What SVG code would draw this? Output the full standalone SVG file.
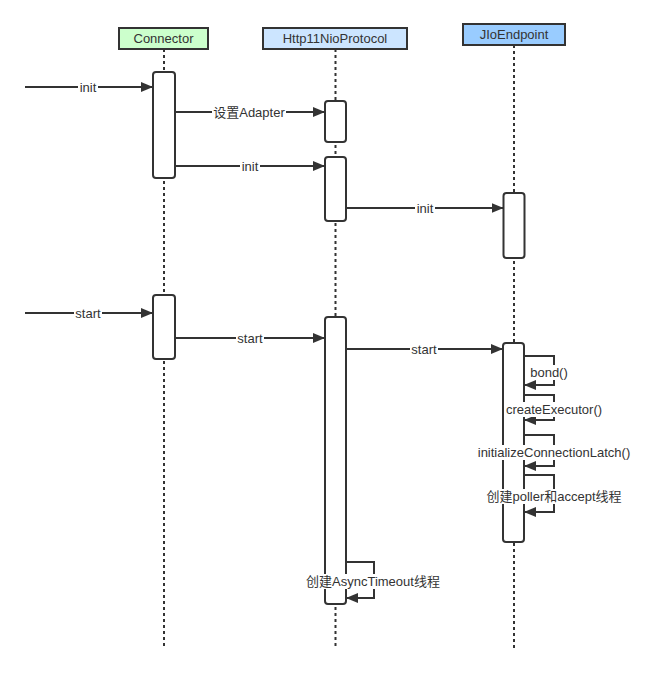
<svg xmlns="http://www.w3.org/2000/svg" width="649" height="673" viewBox="0 0 649 673">
<defs>
<marker id="ah" markerWidth="12" markerHeight="10" refX="12" refY="5" orient="auto" markerUnits="userSpaceOnUse">
<path d="M0,0 L12,5 L0,10 Z" fill="#333"/>
</marker>
<style>
.hdr{stroke:#333;stroke-width:2}
.life{stroke:#333;stroke-width:2;stroke-dasharray:3 3;fill:none}
.act{fill:#fff;stroke:#333;stroke-width:2}
.msg{stroke:#333;stroke-width:2;fill:none;marker-end:url(#ah)}
.t{font-family:"Liberation Sans","Noto Sans CJK SC",sans-serif;font-size:13px;fill:#333;text-anchor:middle}
.bg{fill:#fff}
</style>
</defs>
<rect width="649" height="673" fill="#fff"/>
<g id="lifelines">
<line class="life" x1="164" y1="49" x2="164" y2="648"/>
<line class="life" x1="335.5" y1="49" x2="335.5" y2="648"/>
<line class="life" x1="514" y1="45" x2="514" y2="648"/>
</g>
<g id="connector">
<rect class="hdr" x="119" y="28" width="89" height="21" fill="#ccffcc"/>
<text class="t" x="163.5" y="43">Connector</text>
<rect class="act" x="153" y="72" width="22" height="106" rx="3"/>
<rect class="act" x="153" y="295" width="22" height="64" rx="3"/>
</g>
<g id="http11nioprotocol">
<rect class="hdr" x="263" y="28" width="144" height="21" fill="#cce5ff"/>
<text class="t" x="335" y="43">Http11NioProtocol</text>
<rect class="act" x="325" y="101" width="21" height="41" rx="3"/>
<rect class="act" x="325" y="157" width="21" height="64" rx="3"/>
<rect class="act" x="325" y="317" width="21" height="287" rx="3"/>
</g>
<g id="jioendpoint">
<rect class="hdr" x="463" y="24" width="102" height="21" fill="#99ccff"/>
<text class="t" x="514" y="39">JIoEndpoint</text>
<rect class="act" x="503.5" y="193" width="21" height="65" rx="3"/>
<rect class="act" x="503" y="343" width="21" height="199" rx="3"/>
</g>
<g id="connectors">
<line class="msg" x1="25" y1="87" x2="153" y2="87"/>
<rect class="bg" x="78" y="80" width="20" height="15"/>
<text class="t" x="88" y="92">init</text>

<line class="msg" x1="175" y1="112" x2="325" y2="112"/>
<rect class="bg" x="212" y="105" width="74" height="15"/>
<text class="t" x="249" y="117">设置Adapter</text>

<line class="msg" x1="175" y1="166" x2="325" y2="166"/>
<rect class="bg" x="240" y="159" width="20" height="15"/>
<text class="t" x="250" y="171">init</text>

<line class="msg" x1="346" y1="208" x2="503.5" y2="208"/>
<rect class="bg" x="415" y="201" width="20" height="15"/>
<text class="t" x="425" y="213">init</text>

<line class="msg" x1="25" y1="313" x2="153" y2="313"/>
<rect class="bg" x="74" y="306" width="28" height="15"/>
<text class="t" x="88" y="318">start</text>

<line class="msg" x1="175" y1="338" x2="325" y2="338"/>
<rect class="bg" x="236" y="331" width="28" height="15"/>
<text class="t" x="250" y="343">start</text>

<line class="msg" x1="346" y1="349" x2="503" y2="349"/>
<rect class="bg" x="410" y="342" width="28" height="15"/>
<text class="t" x="424" y="354">start</text>

<polyline class="msg" points="524,356 554,356 554,385 524,385"/>
<rect class="bg" x="530" y="365" width="38" height="15"/>
<text class="t" x="549" y="377">bond()</text>

<polyline class="msg" points="524,395 554,395 554,420 524,420"/>
<rect class="bg" x="504" y="402" width="100" height="15"/>
<text class="t" x="554" y="414">createExecutor()</text>

<polyline class="msg" points="524,435 554,435 554,466 524,466"/>
<rect class="bg" x="474" y="445" width="160" height="15"/>
<text class="t" x="554" y="457">initializeConnectionLatch()</text>

<polyline class="msg" points="524,475 554,475 554,512 524,512"/>
<rect class="bg" x="485" y="489" width="139" height="15"/>
<text class="t" x="554" y="501">创建poller和accept线程</text>

<polyline class="msg" points="346,562 374,562 374,598 346,598"/>
<rect class="bg" x="305" y="574" width="137" height="15"/>
<text class="t" x="373" y="586">创建AsyncTimeout线程</text>
</g>
</svg>
